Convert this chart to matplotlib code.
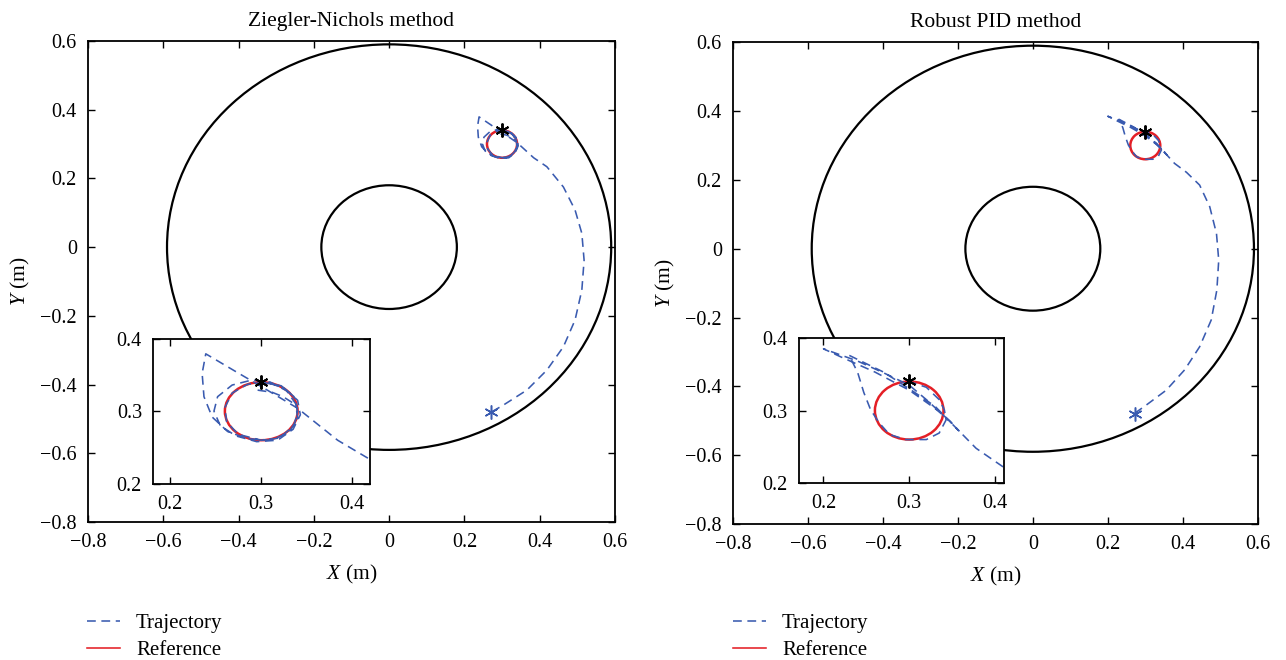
import matplotlib
matplotlib.use("Agg")
import matplotlib.pyplot as plt
from matplotlib.patches import Circle
from matplotlib.lines import Line2D

plt.rcParams['font.family'] = ['Liberation Serif', 'DejaVu Serif']
plt.rcParams['mathtext.fontset'] = 'custom'
plt.rcParams['mathtext.it'] = 'Liberation Serif:italic'
plt.rcParams['mathtext.rm'] = 'Liberation Serif'

# workspace and reference
outer_r = 0.59
inner_r = 0.18
ref_center = (0.3, 0.3)
ref_r = 0.04
ref_start = (0.3, 0.34)
robot_start = (0.272, -0.479)

titles = ["Ziegler-Nichols method", "Robust PID method"]

# Ziegler-Nichols trajectory
zn_x = [0.273, 0.303, 0.366, 0.419, 0.463, 0.494, 0.512, 0.518, 0.512, 0.494,
        0.463, 0.419, 0.384, 0.34, 0.30, 0.27, 0.239,
        0.235, 0.237, 0.246, 0.263, 0.285, 0.31, 0.33, 0.34, 0.338, 0.328,
        0.31, 0.29, 0.268, 0.252, 0.248, 0.255, 0.272, 0.295, 0.318, 0.335,
        0.343, 0.34, 0.325, 0.305, 0.285, 0.268, 0.26, 0.262, 0.275, 0.30,
        0.32, 0.336, 0.34, 0.336, 0.322, 0.30]
zn_y = [-0.479, -0.460, -0.416, -0.358, -0.29, -0.212, -0.125, -0.038, 0.04, 0.108,
        0.175, 0.234, 0.26, 0.304, 0.334, 0.356, 0.379,
        0.352, 0.32, 0.292, 0.272, 0.262, 0.26, 0.27, 0.29, 0.31, 0.328,
        0.34, 0.343, 0.336, 0.32, 0.30, 0.28, 0.266, 0.258, 0.26, 0.275,
        0.295, 0.315, 0.332, 0.34, 0.337, 0.325, 0.305, 0.285, 0.268, 0.26,
        0.263, 0.28, 0.30, 0.32, 0.335, 0.34]
zn_tail_x = [0.296, 0.312, 0.324, 0.334]
zn_tail_y = [0.329, 0.326, 0.32, 0.312]

# Robust PID trajectory
rp_x = [0.272, 0.303, 0.356, 0.405, 0.445, 0.476, 0.491, 0.496, 0.490, 0.472,
        0.445, 0.41, 0.378, 0.343, 0.32, 0.30, 0.27, 0.24, 0.2,
        0.22, 0.26, 0.30, 0.33, 0.348, 0.358,
        0.33, 0.30, 0.27, 0.23,
        0.24, 0.247, 0.255, 0.265, 0.277, 0.296, 0.32, 0.335, 0.343, 0.341,
        0.335, 0.32, 0.30]
rp_y = [-0.478, -0.454, -0.411, -0.352, -0.285, -0.207, -0.12, -0.033, 0.044, 0.122,
        0.185, 0.222, 0.248, 0.29, 0.315, 0.335, 0.352, 0.368, 0.385,
        0.374, 0.353, 0.328, 0.303, 0.285, 0.272,
        0.306, 0.33, 0.353, 0.376,
        0.352, 0.325, 0.301, 0.283, 0.267, 0.26, 0.26, 0.269, 0.287, 0.301,
        0.315, 0.332, 0.34]

inset_xlims = [(0.181, 0.42), (0.171, 0.411)]
main_ticks = [-0.8, -0.6, -0.4, -0.2, 0, 0.2, 0.4, 0.6]
main_labels = ['\u22120.8', '\u22120.6', '\u22120.4', '\u22120.2', '0', '0.2', '0.4', '0.6']

traj_col = '#3a5bb0'
ref_col = '#e41f26'
dash = (0, (5.5, 3.5))

fig = plt.figure(figsize=(12.86, 6.6), dpi=100)
main_pos = [[0.0684, 0.209, 0.4098, 0.729], [0.570, 0.206, 0.408, 0.730]]
inset_pos = [[0.119, 0.267, 0.169, 0.22], [0.621, 0.268, 0.160, 0.22]]
legend_x = [0.0677, 0.570]

series = [((zn_x, zn_y), (zn_tail_x, zn_tail_y)), ((rp_x, rp_y), None)]


def draw(ax, traj, tail, inset=False):
    if not inset:
        ax.add_patch(Circle((0, 0), outer_r, fill=False, color='black', lw=1.6))
        ax.add_patch(Circle((0, 0), inner_r, fill=False, color='black', lw=1.6))
    ax.add_patch(Circle(ref_center, ref_r, fill=False, color=ref_col, lw=1.8))
    ax.plot(traj[0], traj[1], color=traj_col, lw=1.15, ls=dash)
    if tail is not None:
        ax.plot(tail[0], tail[1], color=traj_col, lw=1.15, ls=dash)
    ax.plot(*robot_start, marker=(6, 2, 0), color=traj_col, ms=10, mew=1.1)
    ax.plot(*ref_start, marker=(6, 2, 0), color='black', ms=10, mew=1.4)
    ax.tick_params(direction='in', top=True, right=True, length=5, labelsize=14.5,
                   width=1.0)
    ax.tick_params(axis='x', pad=8)
    ax.tick_params(axis='y', pad=8)
    for s in ax.spines.values():
        s.set_linewidth(1.3)


for i in range(2):
    ax = fig.add_axes(main_pos[i])
    traj, tail = series[i]
    draw(ax, traj, tail)
    ax.set_xlim(-0.8, 0.6)
    ax.set_ylim(-0.8, 0.6)
    ax.set_xticks(main_ticks)
    ax.set_yticks(main_ticks)
    ax.set_xticklabels(main_labels)
    ax.set_yticklabels(main_labels)
    ax.set_title(titles[i], fontsize=15.5, pad=11)
    ax.set_xlabel('$X$ (m)', fontsize=15.5, labelpad=8)
    ax.set_ylabel('$Y$ (m)', fontsize=15.5, labelpad=6)

    axi = fig.add_axes(inset_pos[i])
    axi.set_facecolor('white')
    draw(axi, traj, tail, inset=True)
    axi.set_xlim(*inset_xlims[i])
    axi.set_ylim(0.2, 0.4)
    axi.set_xticks([0.2, 0.3, 0.4])
    axi.set_yticks([0.2, 0.3, 0.4])

    handles = [Line2D([], [], color=traj_col, lw=1.15, ls=dash),
               Line2D([], [], color=ref_col, lw=1.15)]
    fig.legend(handles, ['Trajectory', 'Reference'], loc='lower left',
               bbox_to_anchor=(legend_x[i], 0.0), frameon=False, fontsize=15,
               handlelength=1.6, labelspacing=0.35, handletextpad=0.75,
               borderpad=0.0, borderaxespad=0.0)

fig.savefig('out.png', dpi=100)
